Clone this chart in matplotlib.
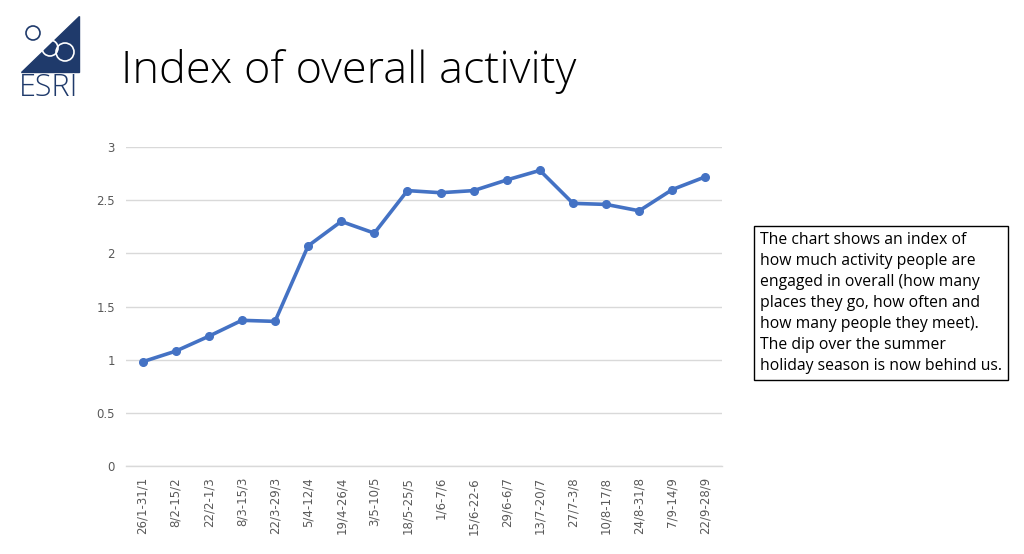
import matplotlib.pyplot as plt
from matplotlib.patches import Polygon, Ellipse

# weekly periods and overall activity index
periods = ['26/1-31/1', '8/2-15/2', '22/2-1/3', '8/3-15/3', '22/3-29/3', '5/4-12/4',
           '19/4-26/4', '3/5-10/5', '18/5-25/5', '1/6-7/6', '15/6-22-6', '29/6-6/7',
           '13/7-20/7', '27/7-3/8', '10/8-17/8', '24/8-31/8', '7/9-14/9', '22/9-28/9']
activity = [0.98, 1.08, 1.22, 1.37, 1.36, 2.07, 2.30, 2.19, 2.59, 2.57,
            2.59, 2.69, 2.78, 2.47, 2.46, 2.40, 2.60, 2.72]
yticks = [0, 0.5, 1, 1.5, 2, 2.5, 3]

note = ("The chart shows an index of\n"
        "how much activity people are\n"
        "engaged in overall (how many\n"
        "places they go, how often and\n"
        "how many people they meet).\n"
        "The dip over the summer\n"
        "holiday season is now behind us.")

W, H = 1024, 554
fig = plt.figure(figsize=(W / 100, H / 100), dpi=100)
ax = fig.add_axes([126 / W, 1 - 466 / H, 596 / W, 319 / H])

x = list(range(len(periods)))
ax.plot(x, activity, color='#4472C4', lw=2.6, marker='o', ms=5.5, zorder=3)

ax.set_xlim(-0.5, len(periods) - 0.5)
ax.set_ylim(0, 3)
ax.set_yticks(yticks)
ax.set_yticklabels(['0', '0.5', '1', '1.5', '2', '2.5', '3'])
ax.set_xticks(x)
ax.set_xticklabels(periods, rotation=90)
ax.tick_params(length=0, labelsize=8.5, labelcolor='#595959', pad=8)
ax.grid(axis='y', color='#D9D9D9', lw=1)
ax.axhline(0, color='#D9D9D9', lw=1, clip_on=False, zorder=0)
for s in ax.spines.values():
    s.set_visible(False)

# title
fig.text(121 / W, 1 - 72 / H, 'Index of overall activity', fontsize=32.5,
         family='Open Sans', weight='light', va='center', ha='left', color='black')

# ESRI logo
navy = '#1F3A6B'
tri = Polygon([(79 / W, 1 - 16 / H), (79 / W, 1 - 72 / H), (21 / W, 1 - 72 / H)],
              closed=True, transform=fig.transFigure, color=navy)
fig.patches.append(tri)
for cx, cy, r, col in [(33, 33, 7, navy), (50, 48, 8, 'white'), (65, 52, 9, 'white')]:
    e = Ellipse((cx / W, 1 - cy / H), 2 * r / W, 2 * r / H, transform=fig.transFigure,
                fill=False, ec=col, lw=1.2)
    fig.patches.append(e)
fig.text(49 / W, 1 - 88 / H, 'ESRI', fontsize=22, family='Open Sans', weight='light',
         color=navy, ha='center', va='center')

# note box
fig.text(760 / W, 1 - 303 / H, note, fontsize=11.3, family='Open Sans',
         va='center', ha='left', linespacing=1.42,
         bbox=dict(boxstyle='square,pad=0.4', fc='white', ec='black', lw=1))

fig.savefig('out.png', dpi=100)
